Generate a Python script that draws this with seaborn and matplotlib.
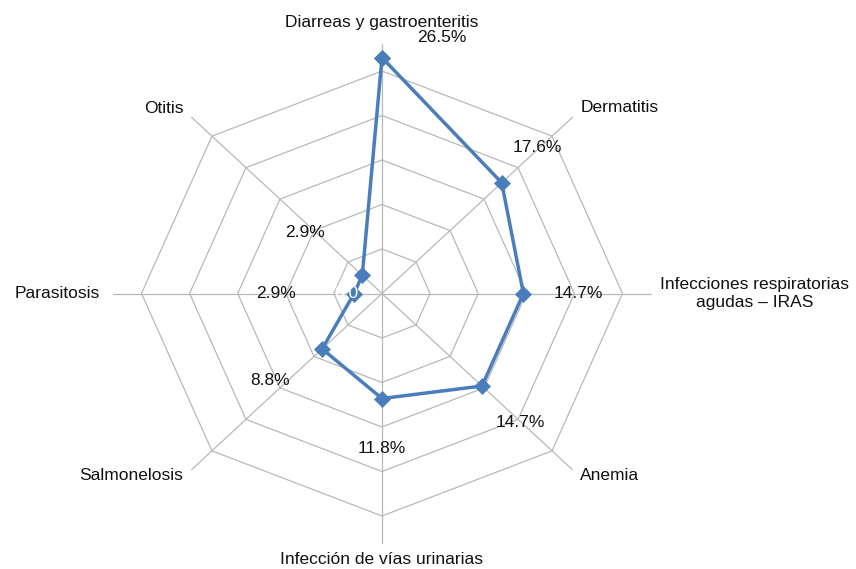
import numpy as np
import pandas as pd
import matplotlib
matplotlib.use("Agg")
import matplotlib.pyplot as plt
import seaborn as sns

# Diagnoses, clockwise from the top
categories = [
    "Diarreas y gastroenteritis",
    "Dermatitis",
    "Infecciones respiratorias\nagudas – IRAS",
    "Anemia",
    "Infección de vías urinarias",
    "Salmonelosis",
    "Parasitosis",
    "Otitis",
]
# Share of cases (%)
values = [26.5, 17.6, 14.7, 14.7, 11.8, 8.8, 2.9, 2.9]
value_labels = ["26.5%", "17.6%", "14.7%", "14.7%", "11.8%", "8.8%", "2.9%", "2.9%"]
ring_levels = [5, 10, 15, 20, 25]
axis_extent = 28

sns.set_style("white")
plt.rcParams["font.family"] = ["Liberation Sans", "DejaVu Sans"]

n = len(categories)
theta = np.arange(n) * 2 * np.pi / n
closed = np.append(theta, theta[0])


def to_xy(r, th):
    return r * np.sin(th), r * np.cos(th)


fig = plt.figure(figsize=(8.56, 5.69), dpi=100)
ax = fig.add_axes([0, 0, 1, 1])

grid_color = "#b8b8b8"
series_color = "#4A7EBB"

# octagonal rings
for lvl in ring_levels:
    gx, gy = to_xy(np.full(n + 1, float(lvl)), closed)
    sns.lineplot(data=pd.DataFrame({"x": gx, "y": gy}), x="x", y="y",
                 sort=False, estimator=None, color=grid_color, lw=0.9, ax=ax)

# spokes
for th in theta:
    sx, sy = to_xy(np.array([0.0, axis_extent]), np.array([th, th]))
    ax.plot(sx, sy, color=grid_color, lw=0.9, zorder=1)

# data series
vals_closed = np.append(values, values[0])
vx, vy = to_xy(vals_closed, closed)
sns.lineplot(data=pd.DataFrame({"x": vx, "y": vy}), x="x", y="y",
             sort=False, estimator=None, color=series_color, lw=2.5,
             marker="D", markersize=7.8, markeredgecolor=series_color,
             markeredgewidth=0.5, ax=ax, zorder=3)

# radial axis origin label, drawn in white
ax.annotate("0.0", xy=(0, 0), xytext=(-36, 0), textcoords="offset pixels",
            ha="center", va="center", fontsize=12.5, color="white", zorder=4)

# value labels (pixel offsets from each marker)
value_offsets = [(60, 20), (36, 35), (55, 0), (38, -36),
                 (0, -50), (-52, -32), (-78, 0), (-57, 43)]
px, py = to_xy(np.array(values), theta)
for x, y, lab, off in zip(px, py, value_labels, value_offsets):
    ax.annotate(lab, xy=(x, y), xytext=off, textcoords="offset pixels",
                ha="center", va="center", fontsize=12.5, color="#111111")

# category labels at the spoke ends
cat_style = [
    ((0, 22), "center"),
    ((8, 10), "left"),
    ((9, 0), "left"),
    ((8, -6), "left"),
    ((0, -17), "center"),
    ((-8, -6), "right"),
    ((-13, 0), "right"),
    ((-8, 9), "right"),
]
ex, ey = to_xy(np.full(n, float(axis_extent)), theta)
for x, y, lab, (off, ha) in zip(ex, ey, categories, cat_style):
    ax.annotate(lab, xy=(x, y), xytext=off, textcoords="offset pixels",
                ha=ha, va="center", multialignment="center",
                fontsize=12.5, color="#111111")

# scale: 9.62 px per % horizontally, 8.9 px per % vertically
ax.set_xlim(-382 / 9.62, (856 - 382) / 9.62)
ax.set_ylim(-(569 - 293.5) / 8.9, 293.5 / 8.9)
ax.set_axis_off()

fig.savefig("out.png", dpi=100, facecolor="white")
